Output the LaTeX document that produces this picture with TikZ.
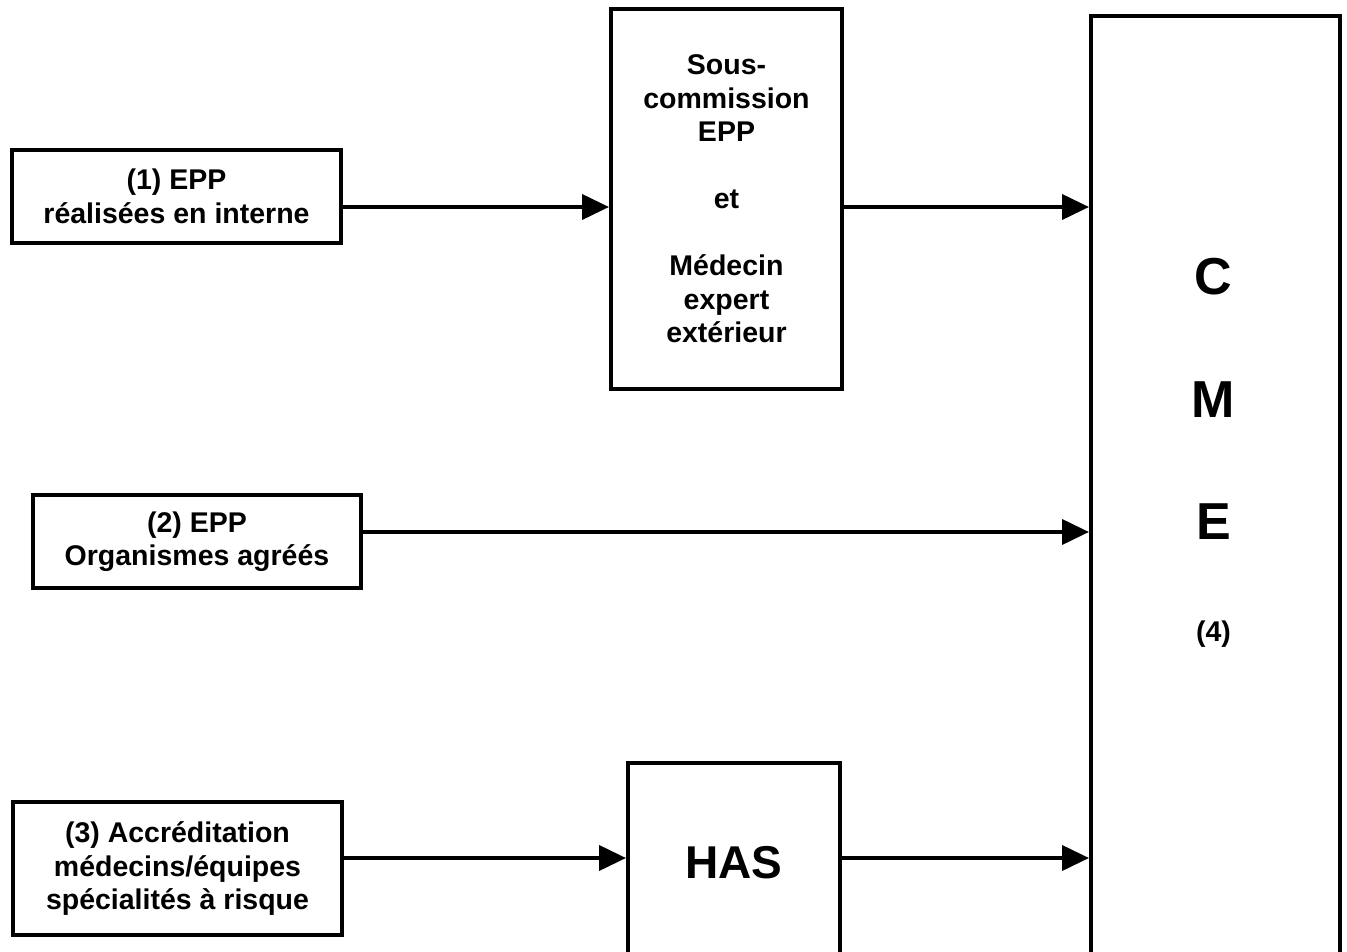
\documentclass[tikz,border=0pt]{standalone}
\usepackage{fontspec}
\setmainfont{Liberation Sans}
\usetikzlibrary{arrows.meta}
\begin{document}
\begin{tikzpicture}[x=1pt,y=-1pt,
  box/.style={draw,line width=4pt,align=center,inner sep=0pt,
    font=\bfseries\fontsize{28.5}{33.5}\selectfont},
  bigletter/.style={font=\bfseries\fontsize{52}{60}\selectfont,inner sep=0pt},
  smalltext/.style={font=\bfseries\fontsize{28.5}{33.5}\selectfont,inner sep=0pt},
  arr/.style={line width=4pt,-{Triangle[length=27pt,width=25pt]}}]
\clip (0,0) rectangle (1347,952);
\fill[white] (0,0) rectangle (1347,952);
% boxes
\node[box,minimum width=329pt,minimum height=93pt] (b1) at (176.5,196.5)
  {(1) EPP\\réalisées en interne};
\node[box,minimum width=231pt,minimum height=380pt] (sc) at (726.5,199)
  {Sous-\\commission\\EPP\\[33.5pt]et\\[33.5pt]Médecin\\expert\\extérieur};
\node[box,minimum width=328pt,minimum height=93pt] (b2) at (197,541.5)
  {(2) EPP\\Organismes agréés};
\node[box,minimum width=329pt,minimum height=133pt] (b3) at (177.5,868.5)
  {(3) Accréditation\\médecins/équipes\\spécialités à risque};
\node[box,minimum width=212pt,minimum height=200pt,
  font=\bfseries\fontsize{46}{54}\selectfont] (has) at (734,863) {HAS};
\node[box,minimum width=249pt,minimum height=966pt,anchor=north west] (cme) at (1089,14) {};
% CME letters
\node[bigletter] (lc) at (1213.5,277) {C};
\node[bigletter] (lm) at (1213.5,400) {M};
\node[bigletter] (le) at (1213.5,522) {E};
\node[smalltext] (l4) at (1213.5,634) {(4)};
% arrows
\coordinate (r1) at (0,207);
\coordinate (r2) at (0,532);
\coordinate (r3) at (0,858);
\draw[arr] (b1.east |- r1) -- (sc.west |- r1);
\draw[arr] (sc.east |- r1) -- (cme.west |- r1);
\draw[arr] (b2.east |- r2) -- (cme.west |- r2);
\draw[arr] (b3.east |- r3) -- (has.west |- r3);
\draw[arr] (has.east |- r3) -- (cme.west |- r3);
\end{tikzpicture}
\end{document}
